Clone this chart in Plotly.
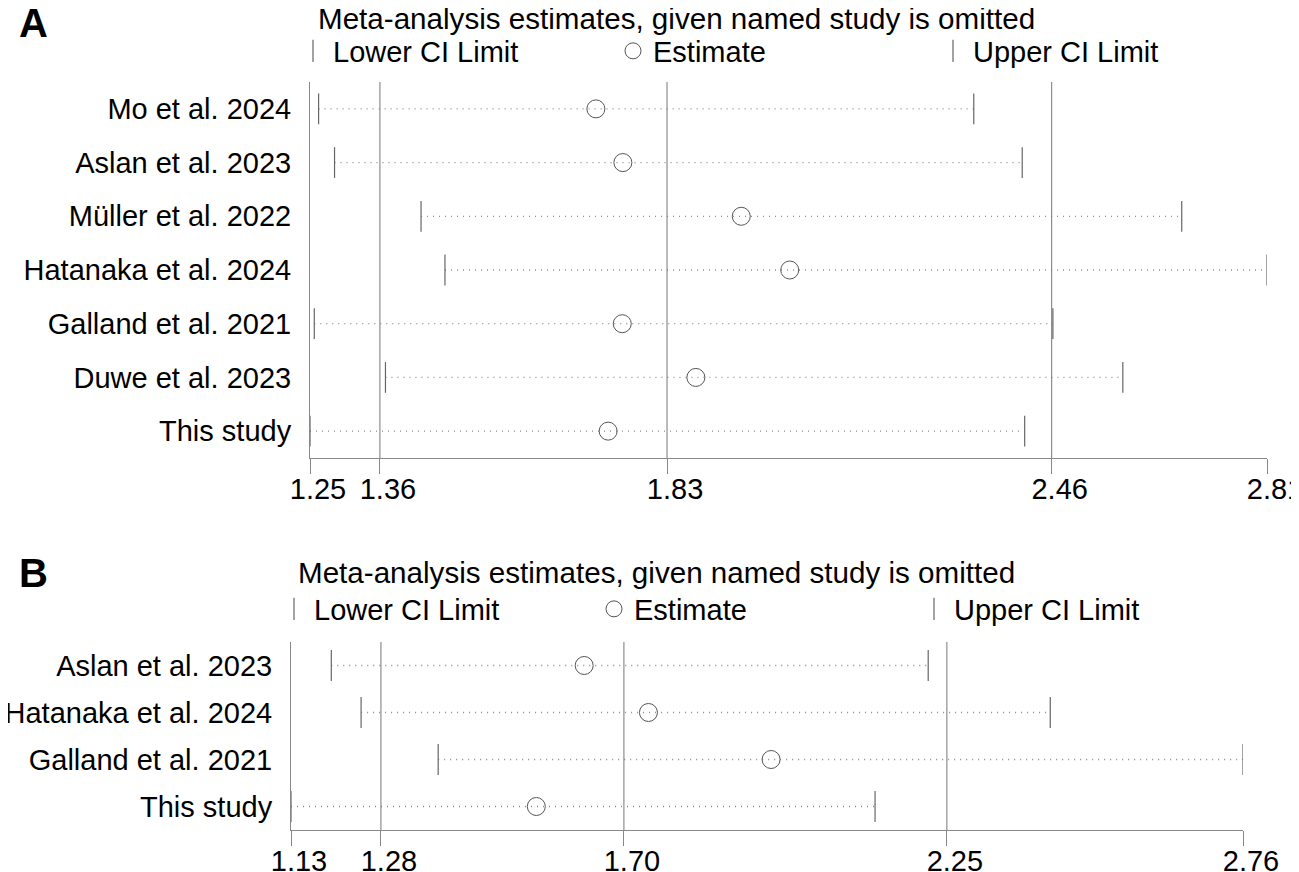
import plotly.graph_objects as go
from plotly.subplots import make_subplots

# Panel A: leave-one-out estimates
studies_a = ["Mo et al. 2024", "Aslan et al. 2023", "Müller et al. 2022", "Hatanaka et al. 2024",
             "Galland et al. 2021", "Duwe et al. 2023", "This study"]
lower_a = [1.264, 1.290, 1.431, 1.470, 1.257, 1.373, 1.250]
est_a = [1.716, 1.760, 1.953, 2.032, 1.759, 1.879, 1.736]
upper_a = [2.332, 2.411, 2.671, 2.810, 2.461, 2.575, 2.415]
overall_a = [1.364, 1.832, 2.459]  # combined lower, estimate, upper

# Panel B
studies_b = ["Aslan et al. 2023", "Hatanaka et al. 2024", "Galland et al. 2021", "This study"]
lower_b = [1.199, 1.250, 1.382, 1.130]
est_b = [1.632, 1.742, 1.952, 1.550]
upper_b = [2.221, 2.430, 2.760, 2.130]
overall_b = [1.284, 1.700, 2.253]

# the page body adds an 8px margin, so positions are shifted back by that much
OFF = 8
W, H = 1299, 872
FONT = "Liberation Sans, Arial, sans-serif"
title_text = "Meta-analysis estimates, given named study is omitted"


def px(x):
    return (x - OFF) / W


def py(y):
    return 1 - (y - OFF) / H


fig = make_subplots(rows=2, cols=1)


def add_panel(row, studies, lower, est, upper, overall, legend):
    # dotted line from lower to upper limit for every study
    xs, ys = [], []
    for s, lo, up in zip(studies, lower, upper):
        xs += [lo, up, None]
        ys += [s, s, None]
    fig.add_trace(go.Scatter(x=xs, y=ys, mode='lines', showlegend=False, hoverinfo='skip',
                             line=dict(color='#8a8a8a', width=1.3, dash='1px,5px')),
                  row=row, col=1)
    for v in overall:
        fig.add_vline(x=v, line=dict(color='#777777', width=1), row=row, col=1)
    fig.add_trace(go.Scatter(x=lower, y=studies, mode='markers', name='Lower CI Limit', legend=legend,
                             marker=dict(symbol='line-ns-open', size=22, color='#666666',
                                         line=dict(color='#666666', width=1.2))),
                  row=row, col=1)
    fig.add_trace(go.Scatter(x=est, y=studies, mode='markers', name='Estimate', legend=legend,
                             marker=dict(symbol='circle-open', size=18, color='#555555',
                                         line=dict(color='#555555', width=1))),
                  row=row, col=1)
    fig.add_trace(go.Scatter(x=upper, y=studies, mode='markers', name='Upper CI Limit', legend=legend,
                             marker=dict(symbol='line-ns-open', size=22, color='#666666',
                                         line=dict(color='#666666', width=1.2))),
                  row=row, col=1)
    lo_min, up_max = min(lower), max(upper)
    ticks = [lo_min] + overall + [up_max]
    fig.update_xaxes(range=[lo_min, up_max], tickvals=ticks, ticktext=[f"{t:.2f}" for t in ticks],
                     automargin=False, showgrid=False, zeroline=False, showline=True,
                     linecolor='#888888', linewidth=1,
                     ticks='outside', ticklen=15, tickcolor='#888888', tickwidth=1,
                     ticklabelshift=8, ticklabelstandoff=-10, ticklabeloverflow='allow',
                     tickfont=dict(size=29, color='black', family=FONT),
                     row=row, col=1)
    fig.update_yaxes(type='category', categoryorder='array', categoryarray=studies,
                     range=[len(studies) - 0.5, -0.5], automargin=False,
                     showgrid=False, zeroline=False,
                     showline=True, linecolor='#888888', linewidth=1, ticks='',
                     ticklabelstandoff=12, ticklabeloverflow='allow',
                     tickfont=dict(size=29, color='black', family=FONT),
                     row=row, col=1)


add_panel(1, studies_a, lower_a, est_a, upper_a, overall_a, 'legend')
add_panel(2, studies_b, lower_b, est_b, upper_b, overall_b, 'legend2')

# pixel-based placement of the two panels
fig.update_layout(
    xaxis=dict(domain=[px(310), px(1267)]),
    yaxis=dict(domain=[py(458), py(82)]),
    xaxis2=dict(domain=[px(291), px(1243)]),
    yaxis2=dict(domain=[py(830), py(642)]),
)

legend_style = dict(orientation='h', xanchor='left', yanchor='middle', bgcolor='rgba(0,0,0,0)',
                    entrywidth=275, entrywidthmode='pixels', itemclick=False,
                    font=dict(size=29, color='black', family=FONT))
fig.update_layout(
    legend=dict(x=px(293), y=py(51), **legend_style),
    legend2=dict(x=px(274), y=py(609), **legend_style),
)

fig.add_annotation(text=title_text, xref='paper', yref='paper', x=px(676), y=py(19),
                   xanchor='center', yanchor='middle',
                   showarrow=False, font=dict(size=29.6, color='black', family=FONT))
fig.add_annotation(text=title_text, xref='paper', yref='paper', x=px(656), y=py(572),
                   xanchor='center', yanchor='middle',
                   showarrow=False, font=dict(size=29.6, color='black', family=FONT))
fig.add_annotation(text="<b>A</b>", xref='paper', yref='paper', x=px(17), y=py(23),
                   xanchor='left', yanchor='middle',
                   showarrow=False, font=dict(size=40, color='black', family=FONT))
fig.add_annotation(text="<b>B</b>", xref='paper', yref='paper', x=px(17), y=py(573),
                   xanchor='left', yanchor='middle',
                   showarrow=False, font=dict(size=40, color='black', family=FONT))

fig.update_layout(width=W, height=H, margin=dict(l=0, r=0, t=0, b=0),
                  plot_bgcolor='white', paper_bgcolor='white', font=dict(family=FONT))

fig.write_html("out.html")
